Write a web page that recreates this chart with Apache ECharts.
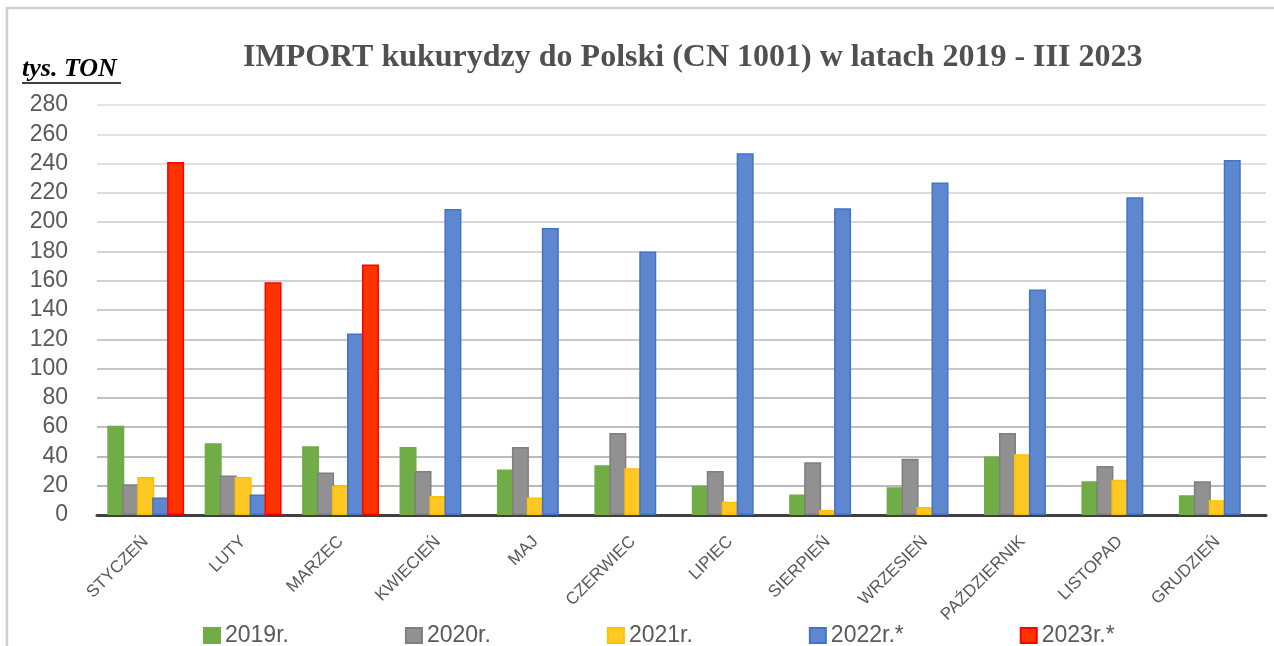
<!DOCTYPE html>
<html>
<head>
<meta charset="utf-8">
<script src="https://cdn.jsdelivr.net/npm/echarts@6/dist/echarts.min.js"></script>
<style>
  html, body { margin: 0; padding: 0; background: #fff; }
  #main { width: 1274px; height: 646px; }
</style>
</head>
<body>
<div id="main"></div>
<script>
var months = ['STYCZEŃ', 'LUTY', 'MARZEC', 'KWIECIEŃ', 'MAJ', 'CZERWIEC', 'LIPIEC',
    'SIERPIEŃ', 'WRZESIEŃ', 'PAŹDZIERNIK', 'LISTOPAD', 'GRUDZIEŃ'];
var names = ['2019r.', '2020r.', '2021r.', '2022r.*', '2023r.*'];

// tys. ton
var y2019 = [61, 49, 47, 46.5, 31, 34, 20, 14, 19, 40, 23, 13.5];
var y2020 = [21, 27, 29, 30, 46.5, 56, 30, 36, 38.5, 56, 33.5, 23];
var y2021 = [26, 26, 20, 13, 12, 32, 9, 3.5, 5.5, 41.5, 24, 10];
var y2022 = [12, 14, 124, 209, 196, 180, 247, 209.5, 227, 154, 217, 242.5];
var y2023 = [241, 159, 171, null, null, null, null, null, null, null, null, null];

var fills = ['#70ad47', '#919191', '#ffc825', '#5d87cf', '#ff3300'];
var borders = ['#70ad47', '#7f7f7f', '#ffc000', '#4472c4', '#ff0000'];

// gridlines get lighter towards the top
var gridColors = [];
for (var i = 0; i <= 14; i++) {
    var c = Math.round(180 + i * 3.6);
    gridColors.push('rgb(' + c + ',' + c + ',' + c + ')');
}

var chart = echarts.init(document.getElementById('main'));

var allData = [y2019, y2020, y2021, y2022, y2023];
var series = [];
for (var s = 0; s < names.length; s++) {
    series.push({
        name: names[s],
        type: 'bar',
        data: allData[s],
        barWidth: 17,
        barGap: '-12%',
        itemStyle: {
            color: fills[s],
            borderColor: borders[s],
            borderWidth: 1.5
        }
    });
}

var option = {
    animation: false,
    textStyle: { fontFamily: 'Liberation Sans' },
    title: {
        text: 'IMPORT kukurydzy do Polski (CN 1001) w latach 2019 - III 2023',
        left: 238,
        top: 37,
        textStyle: {
            fontFamily: 'Liberation Serif',
            fontWeight: 'bold',
            fontSize: 32,
            color: '#505050'
        }
    },
    graphic: [
        {
            type: 'rect',
            shape: { x: 7, y: 8, width: 1300, height: 700 },
            style: { fill: 'none', stroke: '#cfcfcf', lineWidth: 2.5 }
        },
        {
            type: 'text',
            left: 22,
            top: 56,
            style: {
                text: 'tys. TON',
                font: 'italic bold 26px "Liberation Serif"',
                fill: '#000'
            }
        },
        {
            type: 'line',
            shape: { x1: 22, y1: 83, x2: 121, y2: 83 },
            style: { stroke: '#000', lineWidth: 1.5 }
        }
    ],
    legend: {
        data: names,
        left: 198,
        top: 619,
        itemWidth: 16,
        itemHeight: 15,
        itemGap: 116,
        icon: 'rect',
        textStyle: { fontSize: 23, color: '#595959', fontFamily: 'Liberation Sans' }
    },
    grid: {
        left: 97,
        right: 8,
        top: 105,
        bottom: 131
    },
    xAxis: {
        type: 'category',
        data: months,
        axisLine: { lineStyle: { color: '#404040', width: 3 } },
        axisTick: { show: false },
        axisLabel: {
            rotate: 45,
            margin: 24,
            fontSize: 17,
            color: '#595959'
        }
    },
    yAxis: {
        type: 'value',
        min: 0,
        max: 280,
        interval: 20,
        axisLine: { show: false },
        axisTick: { show: false },
        axisLabel: {
            fontSize: 23,
            color: '#595959',
            margin: 29
        },
        splitLine: { lineStyle: { color: gridColors, width: 2 } }
    },
    series: series
};

chart.setOption(option);
</script>
</body>
</html>
